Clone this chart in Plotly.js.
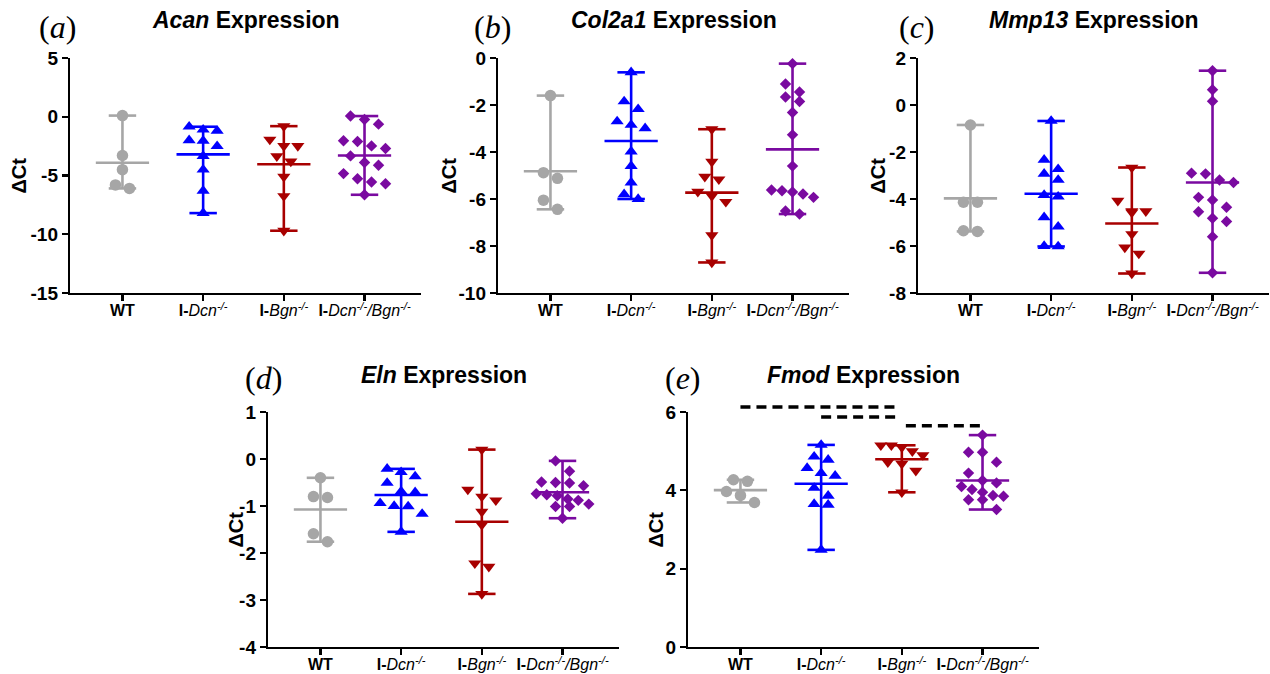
<!DOCTYPE html>
<html>
<head>
<meta charset="utf-8">
<script src="https://cdn.plot.ly/plotly-3.0.1.min.js"></script>
<style>html,body{margin:0;padding:0;background:#fff;}#chart{width:1270px;height:674px;}</style>
</head>
<body>
<div id="chart"></div>
<script>
// ---------- DATA (ΔCt values) ----------
const groupNames = ['WT', 'I-Dcn-/-', 'I-Bgn-/-', 'I-Dcn-/-/Bgn-/-'];
const tickLabels = [
  '<b>WT</b>',
  '<b>I-</b><i>Dcn</i><sup><i>-/-</i></sup>',
  '<b>I-</b><i>Bgn</i><sup><i>-/-</i></sup>',
  '<b>I-</b><i>Dcn</i><sup><i>-/-</i></sup><i>/Bgn</i><sup><i>-/-</i></sup>'
];
const genes = ['Acan', 'Col2a1', 'Mmp13', 'Eln', 'Fmod'];
const panelLetters = ['a', 'b', 'c', 'd', 'e'];
const yTitle = 'ΔCt';

const acanWT  = [0.1, -3.3, -4.5, -5.8, -6.1];
const acanDcn = [-0.85, -1.1, -1.2, -2.05, -2.0, -2.5, -3.35, -4.5, -6.3, -8.2];
const acanBgn = [-0.8, -1.94, -2.48, -2.48, -3.36, -3.8, -5.1, -6.75, -9.7];
const acanDKO = [0.06, -0.23, -0.63, -2.05, -2.1, -2.7, -2.48, -3.33, -3.9, -4.13, -4.84, -5.27, -5.56, -5.7, -6.64];
const acanTicks = [-15, -10, -5, 0, 5];

const col2a1WT  = [-1.6, -4.88, -5.12, -6.05, -6.44];
const col2a1Dcn = [-0.61, -1.85, -2.18, -2.7, -2.85, -2.99, -3.98, -4.6, -5.3, -5.8, -6.0];
const col2a1Bgn = [-3.03, -4.41, -5.05, -5.16, -5.69, -5.87, -6.12, -7.54, -8.7];
const col2a1DKO = [-0.24, -1.11, -1.45, -1.66, -1.85, -2.32, -3.27, -4.6, -5.62, -5.65, -5.79, -5.7, -5.93, -6.51, -6.64];
const col2a1Ticks = [-10, -8, -6, -4, -2, 0];

const mmp13WT  = [-0.85, -4.14, -4.14, -5.38, -5.35];
const mmp13Dcn = [-0.68, -2.33, -2.93, -2.73, -3.19, -3.9, -3.83, -4.78, -5.18, -6.02, -6.0];
const mmp13Bgn = [-2.66, -4.07, -4.52, -4.57, -4.52, -5.49, -6.06, -6.32, -7.17];
const mmp13DKO = [1.46, 0.65, 0.16, -2.93, -2.9, -3.3, -3.19, -4.04, -3.93, -4.54, -4.35, -4.82, -4.96, -5.61, -7.14];
const mmp13Ticks = [-8, -6, -4, -2, 0, 2];

const elnWT  = [-0.4, -0.8, -0.82, -1.59, -1.76];
const elnDcn = [-0.28, -0.21, -0.37, -0.51, -0.71, -0.69, -0.94, -1.0, -1.01, -1.17, -1.55];
const elnBgn = [0.2, -0.65, -0.88, -0.8, -1.12, -1.4, -2.22, -2.29, -2.87];
const elnDKO = [-0.04, -0.26, -0.5, -0.49, -0.57, -0.51, -0.76, -0.74, -0.78, -0.85, -0.88, -1.01, -0.96, -1.01, -1.26];
const elnTicks = [-4, -3, -2, -1, 0, 1];

const fmodWT  = [4.27, 4.23, 3.97, 3.87, 3.69];
const fmodDcn = [5.16, 4.78, 4.86, 4.57, 4.37, 4.44, 4.06, 3.86, 3.65, 3.63, 2.48];
const fmodBgn = [5.15, 5.1, 5.15, 5.0, 4.9, 4.68, 4.72, 4.5, 3.95];
const fmodDKO = [5.41, 4.97, 4.97, 4.72, 4.44, 4.25, 4.19, 4.1, 4.02, 3.95, 3.87, 3.85, 3.76, 3.76, 3.51];
const fmodTicks = [0, 2, 4, 6];

// significance comparisons in Fmod panel (group index from → to, level)
const fmodSigFrom = [0, 1, 2];
const fmodSigTo   = [2, 2, 3];
const fmodSigY    = [6.13, 5.87, 5.65];

// ---------- STYLE / GEOMETRY ----------
const W = 1270, H = 674;
const colors  = ['#a6a6a6', '#0000ff', '#a80000', '#7a0aa0'];
const symbols = ['circle', 'triangle-up', 'triangle-down', 'diamond'];
const msizes  = [11.5, 11.5, 11.5, 8.8];
const FONT = 'Liberation Sans, Arial, Helvetica, sans-serif';

const axLeft  = [70, 498, 918, 268, 688];
const axTop   = [58, 58, 58, 412, 412];
const axH = 235, axW = 351;
const xRange = [-0.65, 3.7];
const titleY = [20, 20, 20, 375, 375];
const labelX = [57, 492, 917, 263, 683];
const labelY = [27, 27, 27, 378, 378];
const yTitleX = [19, 449, 878, 235, 655];

const panelData = [
  [acanWT, acanDcn, acanBgn, acanDKO],
  [col2a1WT, col2a1Dcn, col2a1Bgn, col2a1DKO],
  [mmp13WT, mmp13Dcn, mmp13Bgn, mmp13DKO],
  [elnWT, elnDcn, elnBgn, elnDKO],
  [fmodWT, fmodDcn, fmodBgn, fmodDKO]
];
const panelTicks = [acanTicks, col2a1Ticks, mmp13Ticks, elnTicks, fmodTicks];

const pxPerCat = axW / (xRange[1] - xRange[0]);
const ROW_H = 11;                // px vertical window to group points in a row
const CAP = 0.17, MEANW = 0.33;

function swarmOffsets(vals, pxPerUnit) {
  const order = vals.map((v, i) => i).sort((a, b) => vals[b] - vals[a]);
  const off = new Array(vals.length).fill(0);
  let row = [];
  const flush = () => {
    const n = row.length;
    const sp = (n >= 5 ? 10.5 : 14) / pxPerCat;
    row.forEach((idx, j) => { off[idx] = (j - (n - 1) / 2) * sp; });
    row = [];
  };
  order.forEach(idx => {
    if (row.length && (vals[row[0]] - vals[idx]) * pxPerUnit > ROW_H) flush();
    row.push(idx);
  });
  flush();
  return off;
}

const traces = [];
const layout = {
  width: W, height: H,
  margin: {l: 0, r: 0, t: 0, b: 0},
  paper_bgcolor: '#ffffff', plot_bgcolor: '#ffffff',
  showlegend: false,
  annotations: [], shapes: [],
  font: {family: FONT, color: '#000'}
};

panelData.forEach((groups, p) => {
  const ax = p === 0 ? '' : String(p + 1);
  const ticks = panelTicks[p];
  const yr = [Math.min(...ticks), Math.max(...ticks)];
  const pxPerUnit = axH / (yr[1] - yr[0]);

  groups.forEach((vals, g) => {
    const mn = Math.min(...vals), mx = Math.max(...vals);
    const mean = vals.reduce((a, b) => a + b, 0) / vals.length;
    traces.push({
      type: 'scatter', mode: 'lines', xaxis: 'x' + ax, yaxis: 'y' + ax,
      x: [g, g, null, g - CAP, g + CAP, null, g - CAP, g + CAP, null, g - MEANW, g + MEANW],
      y: [mn, mx, null, mx, mx, null, mn, mn, null, mean, mean],
      line: {color: colors[g], width: 2.6}, hoverinfo: 'skip', name: groupNames[g]
    });
    const offs = swarmOffsets(vals, pxPerUnit);
    traces.push({
      type: 'scatter', mode: 'markers', xaxis: 'x' + ax, yaxis: 'y' + ax,
      x: vals.map((v, i) => g + offs[i]), y: vals, cliponaxis: false,
      marker: {symbol: symbols[g], size: msizes[g], color: colors[g], line: {width: 0}},
      name: groupNames[g]
    });
  });

  const x0 = axLeft[p] / W, x1 = (axLeft[p] + axW) / W;
  const yb = (H - axTop[p] - axH) / H, yt = (H - axTop[p]) / H;
  layout['xaxis' + ax] = {
    domain: [x0, x1], range: xRange, anchor: 'y' + ax,
    tickmode: 'array', tickvals: [0, 1, 2, 3], ticktext: tickLabels,
    showline: true, linecolor: '#000', linewidth: 2.2,
    ticks: 'outside', ticklen: 6, tickwidth: 2.2, tickcolor: '#000',
    ticklabelstandoff: -4,
    showgrid: false, zeroline: false, fixedrange: true,
    tickfont: {family: FONT, size: 16, color: '#000'}
  };
  layout['yaxis' + ax] = {
    domain: [yb, yt], range: yr, anchor: 'x' + ax,
    tickmode: 'array', tickvals: ticks, ticktext: ticks.map(String),
    showline: true, linecolor: '#000', linewidth: 2.2,
    ticks: 'outside', ticklen: 6, tickwidth: 2.2, tickcolor: '#000',
    showgrid: false, zeroline: false, fixedrange: true,
    tickfont: {family: FONT, size: 19, color: '#000', weight: 'bold'}
  };

  // y axis title (ΔCt), placed like the reference
  layout.annotations.push({
    xref: 'paper', yref: 'paper', x: yTitleX[p] / W, y: (yb + yt) / 2,
    xanchor: 'center', yanchor: 'middle', showarrow: false, textangle: -90,
    text: '<b>' + yTitle + '</b>',
    font: {family: FONT, size: 20, color: '#000'}
  });
  // panel title
  layout.annotations.push({
    xref: 'paper', yref: 'paper', x: (x0 + x1) / 2, y: (H - titleY[p]) / H,
    xanchor: 'center', yanchor: 'middle', showarrow: false,
    text: '<b><i>' + genes[p] + '</i> Expression</b>',
    font: {family: FONT, size: 23, color: '#000'}
  });
  // panel letter
  layout.annotations.push({
    xref: 'paper', yref: 'paper', x: labelX[p] / W, y: (H - labelY[p]) / H,
    xanchor: 'center', yanchor: 'middle', showarrow: false,
    text: '(<i>' + panelLetters[p] + '</i>)',
    font: {family: 'Liberation Serif, Times New Roman, serif', size: 32, color: '#000'}
  });
});

// Fmod significance dashed lines: x in data units, y mapped through the y5 axis range to its domain
const fmodRange = [Math.min(...fmodTicks), Math.max(...fmodTicks)];
fmodSigFrom.forEach((f, i) => {
  const yd = (fmodSigY[i] - fmodRange[0]) / (fmodRange[1] - fmodRange[0]);
  layout.shapes.push({
    type: 'line', xref: 'x5', yref: 'y5 domain',
    x0: f + (i === 2 ? 0.05 : 0), x1: fmodSigTo[i] - (i < 2 ? 0.02 : 0),
    y0: yd, y1: yd,
    line: {color: '#000', width: 3.5, dash: '10px,6px'}
  });
});

Plotly.newPlot('chart', traces, layout, {displayModeBar: false, staticPlot: true});
</script>
</body>
</html>
